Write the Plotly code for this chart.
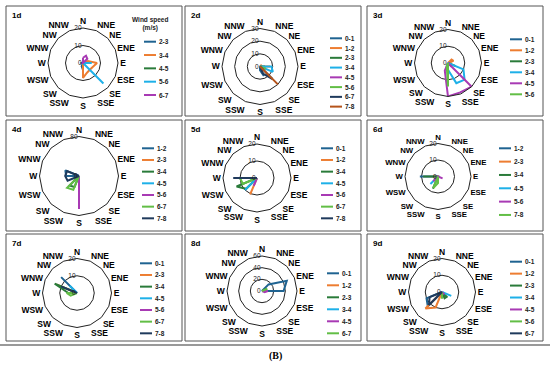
import plotly.graph_objects as go

W, H = 550, 369

DIRS = ["N", "NNE", "NE", "ENE", "E", "ESE", "SE", "SSE",
        "S", "SSW", "SW", "WSW", "W", "WNW", "NW", "NNW"]

PALETTE = ["#1F6391", "#ED7D31", "#2A7B3A", "#1EB0E8",
           "#A83AB4", "#62BE46", "#1F3A5C", "#B5541B"]

DAY_LABELS = ["1d", "2d", "3d", "4d", "5d", "6d", "7d", "8d", "9d"]

# ---- wind-speed classes (legend labels) per day ----
D1_SPEEDS = ["2-3", "3-4", "4-5", "5-6", "6-7"]
D2_SPEEDS = ["0-1", "1-2", "2-3", "3-4", "4-5", "5-6", "6-7", "7-8"]
D3_SPEEDS = ["0-1", "1-2", "2-3", "3-4", "4-5", "5-6"]
D4_SPEEDS = ["1-2", "2-3", "3-4", "4-5", "5-6", "6-7", "7-8"]
D5_SPEEDS = ["0-1", "1-2", "3-4", "4-5", "5-6", "6-7", "7-8"]
D6_SPEEDS = ["1-2", "2-3", "3-4", "4-5", "5-6", "7-8"]
D7_SPEEDS = ["0-1", "2-3", "3-4", "4-5", "5-6", "6-7", "7-8"]
D8_SPEEDS = ["0-1", "1-2", "2-3", "3-4", "4-5", "6-7"]
D9_SPEEDS = ["0-1", "1-2", "2-3", "3-4", "4-5", "5-6", "6-7"]

# ---- frequency (%) by direction, one dict per speed class (unlisted = 0) ----
D1_FREQ = [
    {"S": 4, "SSW": 2, "W": 1.5},
    {"ENE": 3, "E": 8, "ESE": 6, "SE": 5.5, "SSE": 6, "S": 8.5},
    {"E": 2, "SE": 1},
    {"E": 5, "SE": 16.5},
    {"N": 3, "NNE": 4.5, "NE": 3.5, "W": 1},
]
D2_FREQ = [
    {"SSE": 8, "S": 3},
    {"NE": 2, "E": 8},
    {"E": 4, "SE": 3},
    {"E": 9, "ESE": 11},
    {"SE": 3},
    {"ESE": 5},
    {"SE": 14, "SSE": 6},
    {"SE": 20},
]
D3_FREQ = [
    {"E": 2, "SE": 3},
    {"NE": 3, "ENE": 3.5},
    {"ESE": 5},
    {"ESE": 10, "SE": 14, "SSE": 13, "S": 4},
    {"SE": 20, "SSE": 19, "S": 20, "SSW": 5},
    {"S": 14, "SSW": 2},
]
D4_FREQ = [
    {"W": 26, "WNW": 30},
    {"W": 3},
    {"SSW": 24, "SW": 27},
    {"SSW": 5},
    {"S": 67},
    {"SSW": 30, "SW": 34},
    {"WSW": 25, "W": 28, "WNW": 26},
]
D5_FREQ = [
    {"W": 4},
    {"SSW": 10.5},
    {"WSW": 13, "SW": 9},
    {"SW": 10},
    {"SSW": 5},
    {"W": 10, "WSW": 9},
    {"W": 14},
]
D6_FREQ = [
    {"W": 11},
    {"W": 3},
    {"W": 9, "SSW": 8},
    {"SW": 6.5},
    {"ESE": 3, "SW": 4},
    {"SSW": 7.5, "S": 4},
]
D7_FREQ = [
    {"NW": 13},
    {"WNW": 13},
    {"W": 5, "WNW": 14},
    {"NW": 6},
    {"W": 3},
    {"W": 6, "WSW": 4},
    {"WNW": 10},
]
D8_FREQ = [
    {"NE": 16, "ENE": 46, "E": 37},
    {"E": 5},
    {"ENE": 8, "E": 6},
    {"E": 4},
    {"E": 10, "ESE": 5},
    {"ENE": 10},
]
D9_FREQ = [
    {"WSW": 10, "SW": 12},
    {"SW": 14, "SSW": 10},
    {"SE": 4, "SSE": 4},
    {"ESE": 6},
    {"SE": 2},
    {"S": 4},
    {"WSW": 8, "SW": 11},
]

# ---- radial axis ticks (%) per day ----
D1_TICKS = [0, 10, 20]
D2_TICKS = [0, 10, 20, 30]
D3_TICKS = [0, 10, 20]
D4_TICKS = [0, 80]
D5_TICKS = [0, 10, 20]
D6_TICKS = [0, 10, 20]
D7_TICKS = [0, 10, 20]
D8_TICKS = [0, 20, 40, 60]
D9_TICKS = [0, 10, 20]

SPEEDS = [D1_SPEEDS, D2_SPEEDS, D3_SPEEDS, D4_SPEEDS, D5_SPEEDS,
          D6_SPEEDS, D7_SPEEDS, D8_SPEEDS, D9_SPEEDS]
FREQS = [D1_FREQ, D2_FREQ, D3_FREQ, D4_FREQ, D5_FREQ,
         D6_FREQ, D7_FREQ, D8_FREQ, D9_FREQ]
TICKS = [D1_TICKS, D2_TICKS, D3_TICKS, D4_TICKS, D5_TICKS,
         D6_TICKS, D7_TICKS, D8_TICKS, D9_TICKS]

# ---- layout geometry (pixels) ----
BOX_X = [6, 185, 367]
BOX_W = 176
BOX_Y = [6, 120, 234]
BOX_H = [110, 111, 107]
# polar centre x, y and radius
POLAR_GEOM = [(83, 63, 35), (260, 66.5, 38), (448, 63, 33.5),
              (79, 176, 39.5), (257, 178, 34), (438, 176.5, 33),
              (77, 293, 34.5), (262, 291, 35), (442, 292, 33.5)]
DIR_FONT_SIZE = [8.5, 8.5, 8.5, 8.5, 8.5, 7.8, 8.5, 8.5, 8.5]
# legend: line x0 (relative to box), first item y (abs), step
LEG_GEOM = [(138, 41.7, 13.33), (145, 38.3, 9.76), (143, 39.3, 11.0),
            (136, 148.3, 11.67), (136, 148.3, 11.67), (132, 148.3, 13.33),
            (134, 263.3, 11.67), (142, 273.3, 12.0), (143, 261.7, 11.94)]

FONT = "Liberation Sans, Arial, sans-serif"


def px(x):
    return x / W


def py(y):
    return 1 - y / H


fig = go.Figure()
shapes = []
annotations = []
layout = {}

for i in range(9):
    row, col = divmod(i, 3)
    key = "polar" if i == 0 else f"polar{i + 1}"
    cx, cy, R = POLAR_GEOM[i]
    ticks = TICKS[i]

    for j, (spd, fd) in enumerate(zip(SPEEDS[i], FREQS[i])):
        r = [fd.get(d, 0) for d in DIRS]
        fig.add_trace(go.Scatterpolar(
            r=r + [r[0]], theta=DIRS + [DIRS[0]], mode="lines",
            line=dict(color=PALETTE[j], width=2),
            name=spd, subplot=key, showlegend=False, hoverinfo="skip"))

    layout[key] = dict(
        domain=dict(x=[px(cx - R), px(cx + R)], y=[py(cy + R), py(cy - R)]),
        bgcolor="white",
        gridshape="linear",
        angularaxis=dict(
            type="category", categoryarray=DIRS, rotation=90,
            direction="clockwise", showgrid=False, showline=True,
            linecolor="#222", linewidth=1, ticks="",
            tickfont=dict(family=FONT, size=DIR_FONT_SIZE[i], color="black",
                          weight="bold")),
        radialaxis=dict(
            range=[0, ticks[-1]], tickvals=ticks, ticksuffix="%",
            showline=False, ticks="", angle=90, side="counterclockwise",
            tickangle=90, gridcolor="#222", gridwidth=1,
            tickfont=dict(family=FONT, size=6.5, color="#222")),
    )

    # panel border
    x0, y0 = BOX_X[col], BOX_Y[row]
    shapes.append(dict(type="rect", xref="paper", yref="paper",
                       x0=px(x0), x1=px(x0 + BOX_W), y0=py(y0 + BOX_H[row]), y1=py(y0),
                       line=dict(color="#555", width=1), fillcolor="rgba(0,0,0,0)"))
    # day label
    annotations.append(dict(text=DAY_LABELS[i], xref="paper", yref="paper",
                            x=px(x0 + 4), y=py(y0 + 9), xanchor="left", yanchor="middle",
                            showarrow=False,
                            font=dict(family=FONT, size=8, color="black", weight="bold")))
    # legend
    lx, ly, step = LEG_GEOM[i]
    for j, spd in enumerate(SPEEDS[i]):
        yy = ly + j * step
        shapes.append(dict(type="line", xref="paper", yref="paper",
                           x0=px(x0 + lx), x1=px(x0 + lx + 12), y0=py(yy), y1=py(yy),
                           line=dict(color=PALETTE[j], width=2)))
        annotations.append(dict(text=spd, xref="paper", yref="paper",
                                x=px(x0 + lx + 13), y=py(yy), xanchor="left",
                                yanchor="middle", showarrow=False,
                                font=dict(family=FONT, size=6.5, color="#222",
                                          weight="bold")))

annotations.append(dict(text="Wind speed<br>(m/s)", xref="paper", yref="paper",
                        x=px(150), y=py(24), xanchor="center", yanchor="middle",
                        showarrow=False,
                        font=dict(family=FONT, size=6.5, color="#222", weight="bold")))

# bottom rule and caption
shapes.append(dict(type="line", xref="paper", yref="paper",
                   x0=0, x1=1, y0=py(345), y1=py(345),
                   line=dict(color="#999", width=2)))
annotations.append(dict(text="(B)", xref="paper", yref="paper",
                        x=0.5, y=py(356), xanchor="center", yanchor="middle",
                        showarrow=False,
                        font=dict(family="Liberation Serif, Times New Roman, serif",
                                  size=10, color="black", weight="bold")))

fig.update_layout(
    width=W, height=H, autosize=False,
    margin=dict(l=0, r=0, t=0, b=0),
    paper_bgcolor="white", plot_bgcolor="white",
    showlegend=False,
    shapes=shapes, annotations=annotations,
    **layout,
)

fig.write_html("out.html",
               config={"displayModeBar": False},
               post_script="document.body.style.margin='0px';"
                           "document.body.style.overflow='hidden';")
